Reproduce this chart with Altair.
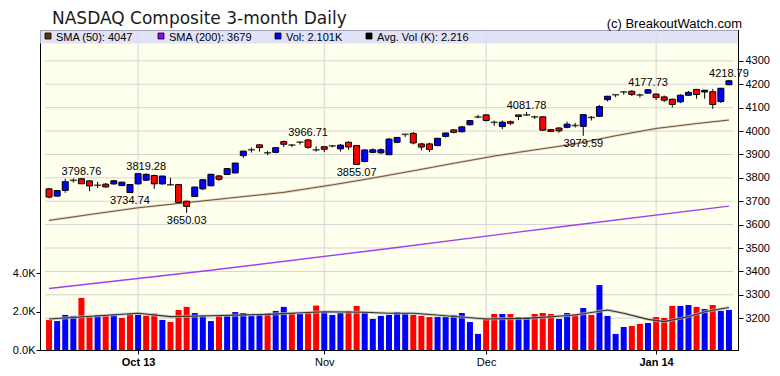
import altair as alt
import pandas as pd

# ---------------- data ----------------
opens = [3753, 3722, 3746, 3789.38, 3796, 3787, 3768.25, 3773, 3774, 3767,
         3737, 3774, 3790, 3810, 3774, 3770.38, 3771, 3700, 3720, 3753,
         3766, 3808, 3814, 3821, 3895, 3920.05, 3941, 3907.07, 3909, 3955,
         3940.13, 3952.34, 3962, 3919.71, 3933, 3936.59, 3924, 3952, 3938, 3870,
         3909, 3907, 3899, 3952, 3985.97, 3990, 3945, 3945, 3938, 3977,
         4005, 3997, 4027, 4059.89, 4069, 4037.20, 4019, 4040, 4069, 4068.75,
         4060.49, 4061, 4006, 4013, 4016, 4023.68, 4020, 4058.13, 4063, 4134,
         4155.42, 4167.18, 4170, 4154.20, 4162, 4158, 4146, 4136, 4125, 4153,
         4178, 4167, 4168, 4126, 4198]
highs = [3757, 3748, 3796, 3797, 3798.76, 3789, 3783, 3778, 3791, 3783,
         3773, 3818.5, 3819.28, 3814, 3808, 3800, 3773, 3702, 3761, 3793,
         3816, 3812, 3840, 3864, 3915, 3930, 3945, 3915, 3931, 3960,
         3945, 3955, 3966.71, 3935, 3936, 3940, 3945, 3956, 3940, 3922,
         3926, 3926, 3970, 3973, 3988, 3996, 3950, 3950, 3970, 3992,
         4007, 4022, 4045, 4069, 4072, 4045, 4045, 4045, 4070, 4081.78,
         4066, 4064, 4009, 4016, 4040, 4035, 4070.5, 4064, 4111, 4150,
         4156, 4170, 4175, 4160, 4177.73, 4160, 4152, 4139, 4157, 4171,
         4180, 4176, 4180, 4184, 4218.79]
lows = [3712, 3719, 3736, 3780, 3773, 3743, 3757, 3758, 3770, 3764,
        3734.74, 3772, 3787, 3753, 3771, 3768, 3694, 3650.03, 3718, 3747,
        3764, 3787, 3812, 3819, 3885, 3908, 3912, 3897, 3905, 3932,
        3932, 3942, 3924, 3912, 3910, 3930, 3912, 3920, 3855.07, 3866,
        3905, 3902, 3897, 3948, 3974, 3943, 3917, 3910, 3935, 3972,
        3990, 3994, 4023, 4055, 4041, 4022, 4008, 4025, 4047, 4065,
        4052, 4000, 3995, 3993, 4012, 4015, 3979.59, 4045, 4060, 4127,
        4145, 4155, 4150, 4143, 4160, 4132, 4124, 4101, 4119, 4150,
        4138, 4138, 4095, 4120, 4196]
closes = [3717.85, 3745.70, 3783.64, 3789.38, 3774.73, 3765.29, 3768.25, 3761.10, 3787.43, 3781.59,
          3771.48, 3817.98, 3815.02, 3774.34, 3807.75, 3770.38, 3694.83, 3677.78, 3760.75, 3791.87,
          3815.28, 3794.01, 3839.43, 3863.15, 3914.28, 3920.05, 3929.57, 3907.07, 3928.96, 3943.36,
          3940.13, 3952.34, 3930.62, 3919.71, 3922.04, 3936.59, 3939.86, 3931.95, 3857.33, 3919.23,
          3919.79, 3919.92, 3965.58, 3972.74, 3985.97, 3949.07, 3931.55, 3921.27, 3969.15, 3991.65,
          3994.57, 4017.75, 4044.75, 4059.89, 4045.26, 4037.20, 4038.00, 4033.16, 4062.52, 4068.75,
          4060.49, 4003.81, 3998.40, 4000.98, 4029.52, 4023.68, 4070.06, 4058.13, 4104.74, 4148.90,
          4155.42, 4167.18, 4156.59, 4154.20, 4176.59, 4143.07, 4131.91, 4113.68, 4153.18, 4165.61,
          4156.19, 4174.66, 4113.30, 4183.02, 4214.88]
prior_close = 3722.18
volumes_k = [1.57, 1.51, 1.83, 1.78, 2.72, 1.72, 1.83, 1.83, 1.86, 1.67,
             1.90, 1.83, 1.79, 1.90, 1.57, 1.46, 2.09, 2.25, 1.93, 1.79,
             1.51, 1.78, 1.78, 1.98, 1.93, 1.78, 1.88, 1.93, 2.04, 2.25,
             1.93, 1.88, 1.93, 2.32, 1.98, 1.83, 1.93, 2.04, 2.30, 1.98,
             1.62, 1.78, 1.83, 1.98, 1.93, 1.83, 1.78, 1.72, 1.72, 1.72,
             1.83, 1.93, 1.46, 0.84, 1.67, 1.88, 1.88, 1.88, 1.72, 1.72,
             1.88, 1.93, 1.88, 1.62, 1.93, 1.88, 2.19, 1.83, 3.39, 1.78,
             0.84, 1.20, 1.25, 1.36, 1.41, 1.72, 1.67, 2.30, 2.30, 2.35,
             2.25, 2.14, 2.35, 2.04, 2.09]

sma50_idx = [0, 5, 11, 20, 29, 35, 39, 45, 50, 55, 58, 65, 70, 75, 80, 84]
sma50_val = [3618, 3643, 3672, 3705, 3738, 3770, 3793, 3830, 3862, 3893, 3909, 3945, 3980, 4011, 4032, 4047]
sma200_idx = [0, 20, 42, 63, 84]
sma200_val = [3327, 3405, 3498, 3590, 3679]
avgvol_idx = [0, 11, 15, 20, 27, 34, 39, 42, 45, 49, 54, 59, 65, 69, 71, 74, 76, 79, 81, 84]
avgvol_val = [1.62, 1.92, 1.74, 1.79, 1.86, 2.00, 1.97, 1.92, 1.92, 1.79, 1.62, 1.65, 1.83, 2.09, 1.92, 1.60, 1.48, 1.74, 2.00, 2.216]

peak_idx = [4, 12, 32, 59, 74, 84]
trough_idx = [10, 17, 38, 66]

month_idx = [11, 34, 54, 75]
month_labels = ["Oct 13", "Nov", "Dec", "Jan 14"]
bold_months = ["Oct 13", "Jan 14"]

price_ticks = [3200, 3300, 3400, 3500, 3600, 3700, 3800, 3900, 4000, 4100, 4200, 4300]
vol_ticks = [0, 2, 4]

title_text = "NASDAQ Composite 3-month Daily"
credit_text = "(c) BreakoutWatch.com"
legend_texts = ["SMA (50): 4047", "SMA (200): 3679", "Vol: 2.101K", "Avg. Vol (K): 2.216"]

# ---------------- tables ----------------
n = len(closes)
x_lo, x_hi = -0.5, n - 0.5
df = pd.DataFrame({"i": list(range(n)), "open": opens, "high": highs, "low": lows,
                   "close": closes, "vol": volumes_k})
df["prev"] = [prior_close] + closes[:-1]
sma50 = pd.DataFrame({"i": sma50_idx, "v": sma50_val})
sma200 = pd.DataFrame({"i": sma200_idx, "v": sma200_val})
avgv = pd.DataFrame({"i": avgvol_idx, "v": avgvol_val})
months = pd.DataFrame({"i": month_idx, "lab": month_labels})
pgrid = pd.DataFrame([{"g": t, "i": e} for t in price_ticks for e in (x_lo, x_hi)])
one = pd.DataFrame({"a": [0]})

# ---------------- layout / style ----------------
W, H = 698, 320
FONT = "Liberation Sans"
XS = alt.Scale(domain=[x_lo, x_hi], nice=False, zero=False)
PS = alt.Scale(domain=[3064, 4432], nice=False, zero=False)
VS = alt.Scale(domain=[0, 16.7], nice=False, zero=True)
BLUE, RED = "#0000ff", "#ff0000"
GRID = "#d4d4d4"

label_expr = " : ".join(f"datum.value == {m} ? '{l}'" for m, l in zip(month_idx, month_labels)) + " : ''"
bold_test = " || ".join(f"datum.value == {m}" for m, l in zip(month_idx, month_labels) if l in bold_months)

x_axis = alt.Axis(values=month_idx, labelExpr=label_expr, grid=False, domainColor="black",
                  tickColor="black", tickSize=4, labelFont=FONT, labelFontSize=11,
                  labelColor="black", labelPadding=2, title=None, labelAngle=0,
                  labelFontWeight=alt.condition(bold_test, alt.value("bold"), alt.value("normal")))
price_axis = alt.Axis(values=price_ticks, orient="right", grid=False, format="d",
                      domainColor="black", tickColor="black", tickSize=5, labelFont=FONT,
                      labelFontSize=11, labelColor="black", labelPadding=2, title=None)
vol_axis = alt.Axis(values=vol_ticks, orient="left", grid=False,
                    labelExpr="format(datum.value, '.1f') + 'K'", domainColor="black",
                    tickColor="black", tickSize=4, labelFont=FONT, labelFontSize=11,
                    labelColor="black", labelPadding=1, title=None)

XE = lambda: alt.X("i:Q", scale=XS, axis=x_axis)
PY = lambda f: alt.Y(f, scale=PS, axis=price_axis)
VY = lambda f: alt.Y(f, scale=VS, axis=vol_axis)

# ----- price group (drawn first) -----
spacer = alt.Chart(months).mark_rule(opacity=0).encode(x=XE(), y=alt.value(0), y2=alt.value(H))
hgrid = alt.Chart(pgrid).mark_line(color=GRID, strokeWidth=1).encode(
    x=XE(), y=PY("g:Q"), detail="g:N")
vgrid = alt.Chart(months).mark_rule(color=GRID, strokeWidth=1).encode(
    x=XE(), y=alt.value(0), y2=alt.value(H))

sma200_line = alt.Chart(sma200).mark_line(color="#a040f0", strokeWidth=1.4).encode(x=XE(), y=PY("v:Q"))
sma50_under = alt.Chart(sma50).mark_line(color="#d0c4b4", strokeWidth=2.6, opacity=0.7).encode(x=XE(), y=PY("v:Q"))
sma50_line = alt.Chart(sma50).mark_line(color="#7a5230", strokeWidth=1.0).encode(x=XE(), y=PY("v:Q"))

wicks = alt.Chart(df).mark_rule(color="black", strokeWidth=1).encode(
    x=XE(), y=PY("low:Q"), y2="high:Q")

bodies = alt.Chart(df).transform_filter("datum.open != datum.close").mark_bar(
    size=6, stroke="black", strokeWidth=1).encode(
    x=XE(), y=PY("open:Q"), y2="close:Q",
    color=alt.condition("datum.close > datum.open", alt.value(BLUE), alt.value(RED)))

doji = alt.Chart(df).transform_filter("datum.open == datum.close").mark_tick(
    orient="horizontal", size=7, thickness=1.6, color="black").encode(x=XE(), y=PY("close:Q"))

hi_lab = alt.Chart(df).transform_filter(alt.FieldOneOfPredicate(field="i", oneOf=peak_idx)).transform_calculate(
    t="format(datum.high, '.2f')").mark_text(font=FONT, fontSize=11, baseline="bottom", dy=-1, color="black").encode(
    x=XE(), y=PY("high:Q"), text="t:N")
lo_lab = alt.Chart(df).transform_filter(alt.FieldOneOfPredicate(field="i", oneOf=trough_idx)).transform_calculate(
    t="format(datum.low, '.2f')").mark_text(font=FONT, fontSize=11, baseline="top", dy=2, color="black").encode(
    x=XE(), y=PY("low:Q"), text="t:N")

price_group = alt.layer(spacer, hgrid, vgrid, sma200_line, sma50_under, sma50_line, wicks, bodies, doji,
                        hi_lab, lo_lab)

# ----- volume group + decorations (drawn second) -----
band = alt.Chart(one).mark_rect(color="#d8d8f9", opacity=0.75).encode(
    x=alt.value(0), x2=alt.value(W), y=alt.value(0), y2=alt.value(13.5))

vol_bars = alt.Chart(df).mark_bar(size=6).encode(
    x=XE(), y=VY("vol:Q"),
    color=alt.condition("datum.close >= datum.prev", alt.value(BLUE), alt.value(RED)))

avg_under = alt.Chart(avgv).mark_line(color="#bcbcbc", strokeWidth=3, opacity=0.7).encode(
    x=XE(), y=VY("v:Q"))
avg_line = alt.Chart(avgv).mark_line(color="#333333", strokeWidth=1.1).encode(
    x=XE(), y=VY("v:Q"))

title = alt.Chart(one).mark_text(font="DejaVu Sans", fontSize=17, align="left", baseline="alphabetic",
                                 color="#1a1a1a").encode(x=alt.value(12), y=alt.value(-6), text=alt.value(title_text))
credit = alt.Chart(one).mark_text(font=FONT, fontSize=13, align="right", baseline="alphabetic",
                                  color="black").encode(x=alt.value(702), y=alt.value(-2), text=alt.value(credit_text))

legend_colors = ["#663300", "#9900ff", "#0000ff", "#000000"]
legend_x = [5, 118, 235, 326]
legend_layers = []
for lx, lc, lt in zip(legend_x, legend_colors, legend_texts):
    legend_layers.append(alt.Chart(one).mark_rect(color=lc, stroke="black", strokeWidth=0.8).encode(
        x=alt.value(lx), x2=alt.value(lx + 6), y=alt.value(3), y2=alt.value(9)))
    legend_layers.append(alt.Chart(one).mark_text(font=FONT, fontSize=11, align="left", baseline="alphabetic",
                                                  color="black").encode(
        x=alt.value(lx + 11), y=alt.value(10.5), text=alt.value(lt)))

vol_group = alt.layer(band, vol_bars, avg_under, avg_line, title, credit, *legend_layers)

chart = alt.layer(price_group, vol_group).resolve_scale(y="independent").properties(
    width=W, height=H,
    padding={"left": 32, "top": 22, "right": 34, "bottom": 18},
    autosize=alt.AutoSizeParams(type="none"),
    background="white",
).configure_view(fill="#ffffee", stroke="black", strokeWidth=1)

chart.save("out.html", embed_options={"renderer": "svg", "actions": False})
